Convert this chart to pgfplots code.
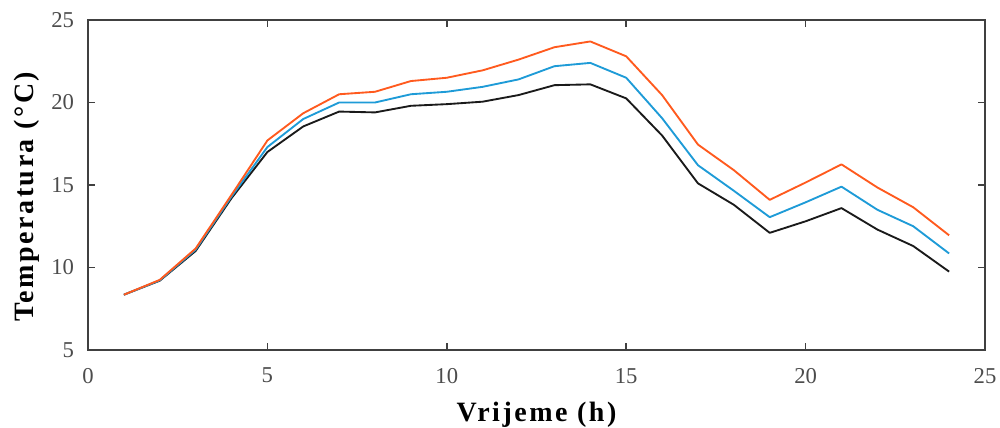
\documentclass[border=0pt]{standalone}
\usepackage{fontspec}
\setmainfont{Liberation Serif}
\newfontfamily\labfont{Liberation Serif}[LetterSpace=9]
\usepackage{pgfplots}
\pgfplotsset{compat=1.18}
\definecolor{myorange}{HTML}{FF5A1E}
\definecolor{myblue}{HTML}{1E9BD7}
\definecolor{myblack}{HTML}{1A1A1A}
\begin{document}
\begin{tikzpicture}[x=0.75pt,y=0.75pt]
\path[use as bounding box] (-88,-78) rectangle (912,350);
\begin{axis}[
  at={(0,0)}, anchor=south west,
  scale only axis,
  width=672.75pt, height=247.5pt,
  xmin=0, xmax=25, ymin=5, ymax=25,
  xtick={0,5,10,15,20,25},
  ytick={5,10,15,20,25},
  tick align=inside,
  major tick length=5pt,
  axis line style={draw=black!75, line width=1.3pt},
  tick style={black!75, line width=1.1pt},
  /pgf/number format/assume math mode=true,
  ticklabel style={font=\fontsize{17}{19}\selectfont, text=black!70},
  xticklabel style={yshift=-10pt},
  yticklabel style={xshift=-7pt},
  xlabel={\labfont\bfseries Vrijeme (h)},
  ylabel={\labfont\bfseries Temperatura (°C)},
  label style={font=\fontsize{21}{23}\selectfont},
  xlabel style={at={(axis description cs:0.5,-0.197)}, anchor=center},
  ylabel style={at={(axis description cs:-0.068,0.464)}, anchor=center},
  every axis plot/.append style={line width=1.4pt, line join=round},
]
\addplot[myblack] coordinates {
(1,8.35) (2,9.2) (3,11.0) (4,14.2) (5,17.0) (6,18.55) (7,19.45) (8,19.4)
(9,19.8) (10,19.9) (11,20.05) (12,20.45) (13,21.05) (14,21.1) (15,20.25)
(16,18.0) (17,15.1) (18,13.8) (19,12.1) (20,12.8) (21,13.6) (22,12.3)
(23,11.3) (24,9.75)};
\addplot[myblue] coordinates {
(1,8.35) (2,9.22) (3,11.08) (4,14.3) (5,17.3) (6,19.0) (7,20.0) (8,20.0)
(9,20.5) (10,20.65) (11,20.95) (12,21.4) (13,22.2) (14,22.4) (15,21.5)
(16,19.05) (17,16.2) (18,14.65) (19,13.05) (20,13.95) (21,14.9) (22,13.5)
(23,12.5) (24,10.85)};
\addplot[myorange] coordinates {
(1,8.35) (2,9.25) (3,11.15) (4,14.4) (5,17.7) (6,19.35) (7,20.5) (8,20.65)
(9,21.3) (10,21.5) (11,21.95) (12,22.6) (13,23.35) (14,23.7) (15,22.8)
(16,20.45) (17,17.45) (18,15.9) (19,14.1) (20,15.15) (21,16.25) (22,14.85)
(23,13.65) (24,11.95)};
\end{axis}
\end{tikzpicture}
\end{document}
